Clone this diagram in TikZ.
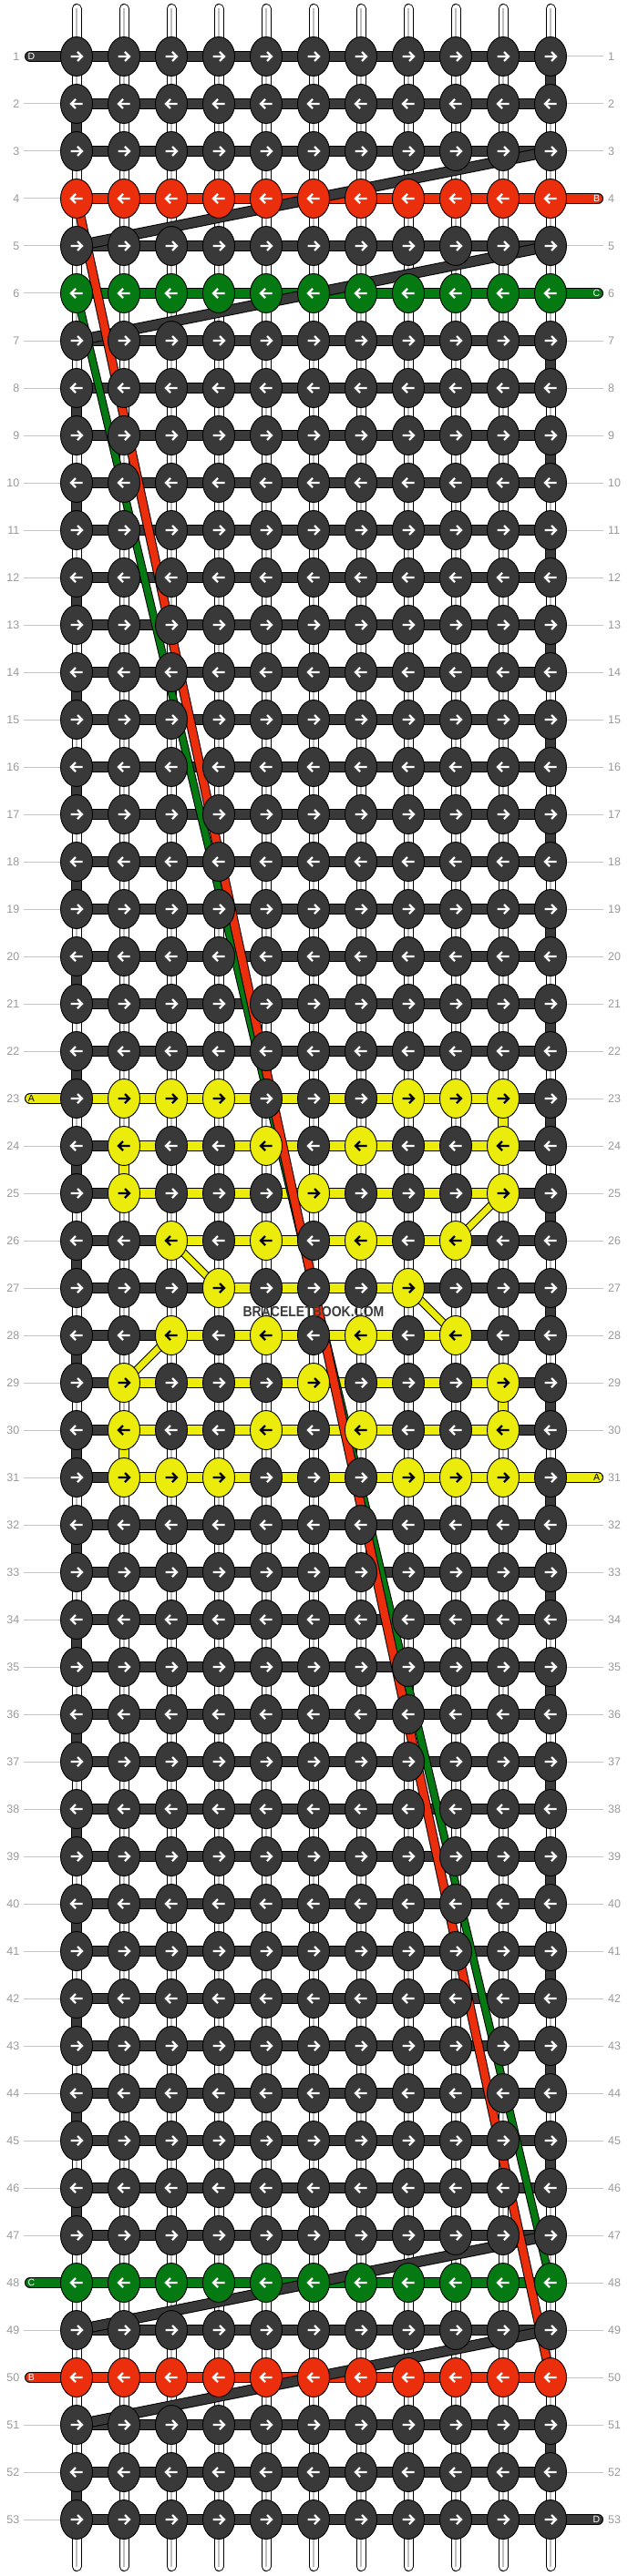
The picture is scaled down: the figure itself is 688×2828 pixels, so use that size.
\documentclass[tikz,border=0pt]{standalone}
\usepackage{fontspec}
\setmainfont{Liberation Sans}
\usetikzlibrary{shapes.geometric}
\definecolor{dk}{HTML}{393939}
\definecolor{yl}{HTML}{EBEB0C}
\definecolor{rd}{HTML}{EB2E0C}
\definecolor{gn}{HTML}{067A12}
\definecolor{lblc}{HTML}{9A9A9A}
\definecolor{llc}{HTML}{C4C4C4}
\definecolor{stubg}{HTML}{BEBEBE}
\definecolor{wmc}{HTML}{3C3C3C}
\pgfdeclarelayer{bgl}
\pgfdeclarelayer{threads}
\pgfdeclarelayer{conn}
\pgfdeclarelayer{diag}
\pgfsetlayers{bgl,threads,conn,diag,main}
\makeatletter
\def\yset{,23-2,23-3,23-4,23-8,23-9,23-10,24-2,24-5,24-7,24-10,25-2,25-6,25-10,26-3,26-5,26-7,26-9,27-4,27-8,28-3,28-5,28-7,28-9,29-2,29-6,29-10,30-2,30-5,30-7,30-10,31-2,31-3,31-4,31-8,31-9,31-10,}
\newcommand\knotcol[2]{%
  \def\kc{dk}\def\ac{white}%
  \ifnum#1=4 \def\kc{rd}\fi
  \ifnum#1=50 \def\kc{rd}\fi
  \ifnum#1=6 \def\kc{gn}\fi
  \ifnum#1=48 \def\kc{gn}\fi
  \edef\tmp{\noexpand\in@{,#1-#2,}{\yset}}\tmp
  \ifin@\def\kc{yl}\def\ac{black}\fi}
\makeatother
\newcommand\segcol[2]{%
  \def\sc{dk}%
  \ifnum#1=4 \def\sc{rd}\fi
  \ifnum#1=50 \def\sc{rd}\fi
  \ifnum#1=6 \def\sc{gn}\fi
  \ifnum#1=48 \def\sc{gn}\fi
  \ifnum#1>22 \ifnum#1<32
    \ifcase\numexpr#1-23\relax
      \def\ya{1}\def\yb{9}\or
      \def\ya{2}\def\yb{9}\or
      \def\ya{2}\def\yb{9}\or
      \def\ya{3}\def\yb{8}\or
      \def\ya{4}\def\yb{7}\or
      \def\ya{3}\def\yb{8}\or
      \def\ya{2}\def\yb{9}\or
      \def\ya{2}\def\yb{9}\or
      \def\ya{2}\def\yb{10}\fi
    \ifnum#2<\ya\relax\else\ifnum#2>\yb\relax\else\def\sc{yl}\fi\fi
  \fi\fi}
\tikzset{
  knot/.style={ellipse,minimum width=35,minimum height=43,inner sep=0,draw=black,line width=0.9},
  arw/.style={line width=2.4,line join=miter,line cap=butt},
  band/.style={draw=black,line width=1,double=#1,double distance=10},
  diagband/.style 2 args={draw=black,line width=1,double=#1,double distance=#2},
  stubo/.style={line width=11,draw=black,line cap=round},
  stubi/.style={line width=9,draw=white,line cap=round},
  stubc/.style={line width=1.5,draw=stubg},
  lbl/.style={font=\fontsize{12.5}{12.5}\selectfont,text=lblc,inner sep=0},
  lline/.style={draw=llc,line width=1},
  endtxt/.style={font=\fontsize{10.5}{10.5}\selectfont,inner sep=0},
  wm/.style={font=\bfseries\fontsize{16}{16}\selectfont,text=wmc,inner sep=0,xscale=0.875}
}
\begin{document}
\begin{tikzpicture}[x=1pt,y=-1pt]
\useasboundingbox (0,0) rectangle (688,2828);
\begin{pgfonlayer}{bgl}
\fill[white] (0,0) rectangle (688,2828);
\end{pgfonlayer}
% knots
\foreach \r in {1,...,53}{
  \foreach \c in {1,...,11}{
    \knotcol{\r}{\c}
    \pgfmathsetmacro\x{84+52*(\c-1)}
    \pgfmathsetmacro\y{62+52*(\r-1)}
    \node[knot,fill=\kc] (k-\r-\c) at (\x,\y) {};
    \ifodd\r
      \draw[arw,draw=\ac] (k-\r-\c.center) ++(-6.5,0) -- ++(12.5,0) ++(-5,-5) -- ++(5,5) -- ++(-5,5);
    \else
      \draw[arw,draw=\ac] (k-\r-\c.center) ++(6.5,0) -- ++(-12.5,0) ++(5,-5) -- ++(-5,5) -- ++(5,5);
    \fi
  }
}
% white vertical threads
\begin{pgfonlayer}{threads}
\foreach \c in {1,...,11}{
  \pgfmathsetmacro\x{84+52*(\c-1)}
  \coordinate (top-\c) at (\x,9.5);
  \coordinate (bot-\c) at (\x,2817.5);
  \draw[stubo] (top-\c) -- (bot-\c);
  \draw[stubi] (top-\c) -- (bot-\c);
  \draw[stubc] (top-\c) -- (bot-\c);
}
\end{pgfonlayer}
% thread end coordinates
\foreach \r in {1,23,48,50}{
  \pgfmathsetmacro\y{62+52*(\r-1)}
  \coordinate (lend-\r) at (33,\y);
}
\foreach \r in {4,6,31,53}{
  \pgfmathsetmacro\y{62+52*(\r-1)}
  \coordinate (rend-\r) at (656,\y);
}
\begin{pgfonlayer}{conn}
\foreach \r in {1,...,53}{
  \foreach \c in {1,...,10}{
    \pgfmathtruncatemacro\n{\c+1}
    \segcol{\r}{\c}
    \draw[band=\sc] (k-\r-\c.center) -- (k-\r-\n.center);
  }
}
\foreach \r in {1,...,52}{
  \def\ok{1}
  \ifnum\r>2 \ifnum\r<7 \def\ok{0}\fi\fi
  \ifnum\r>46 \ifnum\r<51 \def\ok{0}\fi\fi
  \ifnum\ok=1
    \pgfmathtruncatemacro\n{\r+1}
    \ifodd\r \def\cc{11}\else \def\cc{1}\fi
    \draw[band=dk] (k-\r-\cc.center) -- (k-\n-\cc.center);
  \fi
}
\draw[band=yl] (k-23-10.center) -- (k-24-10.center);
\draw[band=yl] (k-24-2.center) -- (k-25-2.center);
\draw[band=yl] (k-29-10.center) -- (k-30-10.center);
\draw[band=yl] (k-30-2.center) -- (k-31-2.center);
\draw[band=dk,line cap=round] (lend-1) -- (k-1-1.center);
\draw[band=yl,line cap=round] (lend-23) -- (k-23-1.center);
\draw[band=gn,line cap=round] (lend-48) -- (k-48-1.center);
\draw[band=rd,line cap=round] (lend-50) -- (k-50-1.center);
\draw[band=rd,line cap=round] (k-4-11.center) -- (rend-4);
\draw[band=gn,line cap=round] (k-6-11.center) -- (rend-6);
\draw[band=yl,line cap=round] (k-31-11.center) -- (rend-31);
\draw[band=dk,line cap=round] (k-53-11.center) -- (rend-53);
\end{pgfonlayer}
\begin{pgfonlayer}{diag}
\draw[diagband={dk}{10}] (k-3-11.center) -- (k-5-1.center);
\draw[diagband={dk}{10}] (k-5-11.center) -- (k-7-1.center);
\draw[diagband={dk}{10}] (k-47-11.center) -- (k-49-1.center);
\draw[diagband={dk}{10}] (k-49-11.center) -- (k-51-1.center);
\draw[diagband={yl}{7}] (k-25-10.center) -- (k-26-9.center);
\draw[diagband={yl}{7}] (k-26-3.center) -- (k-27-4.center);
\draw[diagband={yl}{7}] (k-27-8.center) -- (k-28-9.center);
\draw[diagband={yl}{7}] (k-28-3.center) -- (k-29-2.center);
\draw[diagband={gn}{7}] (k-6-1.center) -- (k-48-11.center);
\draw[diagband={rd}{8.5}] (k-4-1.center) -- (k-50-11.center);
\end{pgfonlayer}
% labels
\foreach \r in {1,...,53}{
  \pgfmathsetmacro\y{62+52*(\r-1)}
  \node[lbl,anchor=east] (ll-\r) at (21.5,\y) {\r};
  \node[lbl,anchor=west] (rl-\r) at (667,\y) {\r};
  \coordinate (la-\r) at (26,\y);
  \coordinate (lb-\r) at (66,\y);
  \coordinate (ra-\r) at (622,\y);
  \coordinate (rb-\r) at (662,\y);
}
\foreach \r in {2,...,22,24,25,...,47,49,51,52,53}{
  \draw[lline] (la-\r) -- (lb-\r);
}
\foreach \r in {1,2,3,5,7,8,...,30,32,33,...,52}{
  \draw[lline] (ra-\r) -- (rb-\r);
}
\node[endtxt,text=white] at ([xshift=1.5]lend-1) {D};
\node[endtxt,text=black] at ([xshift=1.5]lend-23) {A};
\node[endtxt,text=white] at ([xshift=1.5]lend-48) {C};
\node[endtxt,text=white] at ([xshift=1.5]lend-50) {B};
\node[endtxt,text=white] at ([xshift=-1.5]rend-4) {B};
\node[endtxt,text=white] at ([xshift=-1.5]rend-6) {C};
\node[endtxt,text=black] at ([xshift=-1.5]rend-31) {A};
\node[endtxt,text=white] at ([xshift=-1.5]rend-53) {D};
\node[wm] (wm) at (344,1440) {BRACELETBOOK.COM};
\end{tikzpicture}
\end{document}
